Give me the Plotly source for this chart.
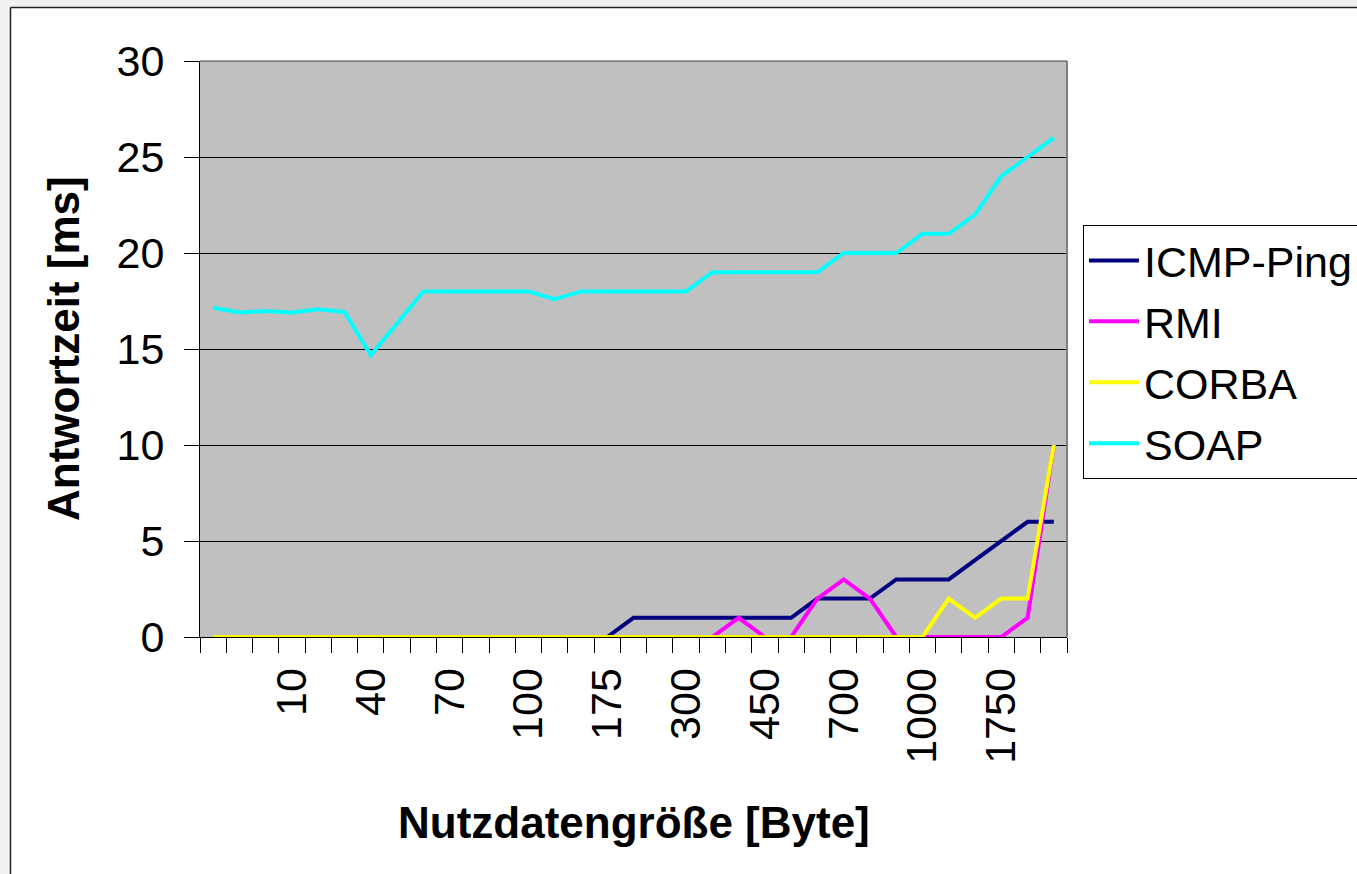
import plotly.graph_objects as go

# ---- data ----
x_labels = ["", "", "", "10", "", "", "40", "", "", "70", "", "", "100", "", "", "175", "",
            "", "300", "", "", "450", "", "", "700", "", "", "1000", "", "", "1750", "", ""]

icmp_ping = [0, 0, 0, 0, 0, 0, 0, 0, 0, 0, 0, 0, 0, 0, 0, 0,
             1, 1, 1, 1, 1, 1, 1, 2, 2, 2, 3, 3, 3, 4, 5, 6, 6]
rmi = [0, 0, 0, 0, 0, 0, 0, 0, 0, 0, 0, 0, 0, 0, 0, 0, 0, 0, 0, 0,
       1, 0, 0, 2, 3, 2, 0, 0, 0, 0, 0, 1, 10]
corba = [0, 0, 0, 0, 0, 0, 0, 0, 0, 0, 0, 0, 0, 0, 0, 0, 0, 0, 0, 0,
         0, 0, 0, 0, 0, 0, 0, 0, 2, 1, 2, 2, 10]
soap = [17.15, 16.9, 16.98, 16.9, 17.07, 16.93, 14.67, 16.3, 18, 18, 18, 18, 18, 17.6,
        18, 18, 18, 18, 18, 19, 19, 19, 19, 19, 20, 20, 20, 21, 21, 22, 24, 25, 26]

series_names = ["ICMP-Ping", "RMI", "CORBA", "SOAP"]
series_colors = ["#000080", "#FF00FF", "#FFFF00", "#00FFFF"]

x_idx = list(range(len(x_labels)))
tick_idx = [i for i, t in enumerate(x_labels) if t]
tick_txt = [x_labels[i] for i in tick_idx]
boundaries = [i - 0.5 for i in range(len(x_labels) + 1)]

FONT = 'Arial, "Liberation Sans", sans-serif'

fig = go.Figure()
for name, vals, col in zip(series_names, [icmp_ping, rmi, corba, soap], series_colors):
    fig.add_trace(go.Scatter(x=x_idx, y=vals, mode="lines", name=name,
                             line=dict(color=col, width=4), legendgroup=name))

# plot area px: x 200..1067, y 61..637
L, R, T, B = 200, 1067, 61, 637
W, H = 1357, 874
def px(xp):
    return (xp - L) / (R - L)
def py(yp):
    return (B - yp) / (B - T)

fig.update_layout(
    width=W, height=H,
    margin=dict(l=L, r=W - R, t=T, b=H - B, autoexpand=False),
    paper_bgcolor="white", plot_bgcolor="#C0C0C0",
    font=dict(family=FONT, size=43, color="black"),
    showlegend=True,
    legend=dict(x=px(1083), y=py(225), xanchor="left", yanchor="top",
                bgcolor="white", bordercolor="black", borderwidth=1,
                font=dict(size=43), traceorder="grouped", tracegroupgap=2,
                itemwidth=50),
    xaxis=dict(range=[-0.5, len(x_labels) - 0.5], tickmode="array", tickvals=tick_idx,
               ticktext=tick_txt, tickangle=-90, ticks="", showgrid=False, zeroline=False,
               showline=True, linecolor="black", linewidth=1, ticklabelstandoff=13,
               minor=dict(tickmode="array", tickvals=boundaries, ticks="outside",
                          ticklen=15, tickcolor="black", tickwidth=1, showgrid=False)),
    yaxis=dict(range=[0, 30], tickmode="linear", tick0=0, dtick=5, ticks="outside",
               ticklen=15, tickcolor="black", tickwidth=1, showgrid=True,
               gridcolor="black", gridwidth=1, showline=True, linecolor="black",
               linewidth=1, zeroline=False, ticklabelstandoff=11),
)

# plot area frame (gray right edge, dark top)
fig.add_shape(type="line", xref="paper", yref="paper", x0=1, x1=1, y0=0, y1=1,
              line=dict(color="#808080", width=2))
fig.add_shape(type="line", xref="paper", yref="paper", x0=0, x1=1, y0=1, y1=1,
              line=dict(color="#404040", width=1))

# outer window frame
fig.add_shape(type="rect", xref="paper", yref="paper", x0=px(0), x1=px(10), y0=py(900), y1=py(-5),
              fillcolor="#F0F0F0", line=dict(width=0), layer="above")
fig.add_shape(type="rect", xref="paper", yref="paper", x0=px(0), x1=px(1400), y0=py(7), y1=py(-5),
              fillcolor="#F0F0F0", line=dict(width=0), layer="above")
fig.add_shape(type="line", xref="paper", yref="paper", x0=px(10.5), x1=px(10.5), y0=py(900), y1=py(7.5),
              line=dict(color="#202020", width=1.5))
fig.add_shape(type="line", xref="paper", yref="paper", x0=px(10.5), x1=px(1400), y0=py(7.5), y1=py(7.5),
              line=dict(color="#202020", width=1.5))

# axis titles
fig.add_annotation(text="<b>Nutzdatengröße [Byte]</b>", xref="paper", yref="paper",
                   x=px(634), y=py(822), xanchor="center", yanchor="middle", showarrow=False,
                   font=dict(size=44, family=FONT, color="black"))
fig.add_annotation(text="<b>Antwortzeit [ms]</b>", xref="paper", yref="paper",
                   x=px(63), y=py(349), xanchor="center", yanchor="middle", showarrow=False,
                   textangle=-90, font=dict(size=44, family=FONT, color="black"))

fig.write_html("out.html", config={"displayModeBar": False},
               post_script="document.body.style.margin='0';document.body.style.overflow='hidden';")
